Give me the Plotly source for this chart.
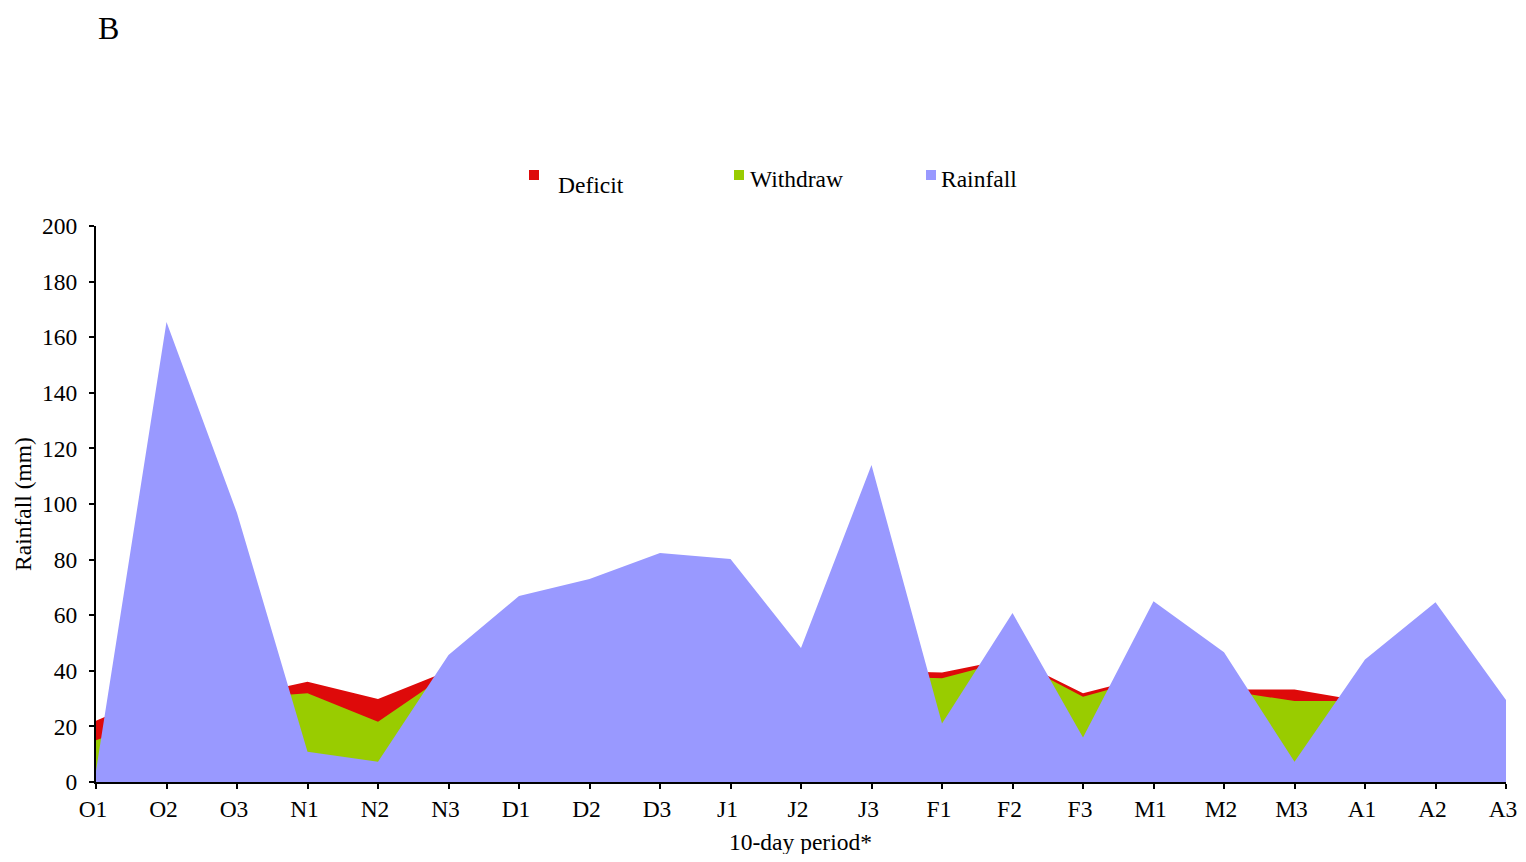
import plotly.graph_objects as go

periods = ["O1", "O2", "O3", "N1", "N2", "N3", "D1", "D2", "D3", "J1", "J2", "J3",
           "F1", "F2", "F3", "M1", "M2", "M3", "A1", "A2", "A3"]
rainfall = [4, 165.5, 96.8, 10.9, 7.3, 45.7, 66.9, 73, 82.4, 80.2, 48.2, 114,
            21, 60.8, 16, 65, 46.7, 7.3, 44.1, 64.7, 29.5]
withdraw_level = [15, 24, 30, 31.9, 21.7, 39, 40, 40, 40, 40, 40, 38,
                  37.3, 44, 30.7, 37.7, 33, 29.1, 29.1, 28, 27]
deficit_level = [22, 33, 30.5, 36.1, 29.9, 40, 42, 42, 42, 42, 42, 40,
                 39.4, 44.5, 31.9, 38.4, 33.3, 33.3, 29, 28, 27.5]

RED = "#DE0A0A"
GREEN = "#99CC00"
PURPLE = "#9999FF"
FONT = "Liberation Serif"
FS = 23.5

fig = go.Figure()
for name, vals, col in [("Deficit", deficit_level, RED),
                        ("Withdraw", withdraw_level, GREEN),
                        ("Rainfall", rainfall, PURPLE)]:
    fig.add_trace(go.Scatter(x=periods, y=vals, name=name, mode="none",
                             fill="tozeroy", fillcolor=col, showlegend=False))

# page has an 8px body margin; reference pixel coords are converted with OFF
OFF = 8
W, H = 1518, 846
L, T = 96 - OFF, 226 - OFF
R = W - (1506 - OFF)
B = H - (782 - OFF)
pw, ph = W - L - R, H - T - B

def px(x):
    return (x - OFF - L) / pw

def py(y):
    return (H - B - (y - OFF)) / ph

shapes = []
annotations = []
legend_items = [("Deficit", RED, 529, 558, 185),
                ("Withdraw", GREEN, 734, 750, 179),
                ("Rainfall", PURPLE, 926, 941, 179)]
for name, col, mx, tx, ty in legend_items:
    shapes.append(dict(type="rect", xref="paper", yref="paper",
                       x0=px(mx), x1=px(mx + 10), y0=py(180), y1=py(170),
                       fillcolor=col, line=dict(width=0)))
    annotations.append(dict(text=name, xref="paper", yref="paper",
                            x=px(tx - 2), y=py(ty), xanchor="left", yanchor="middle",
                            showarrow=False, font=dict(family=FONT, size=FS, color="black")))

annotations.append(dict(text="B", xref="paper", yref="paper", x=px(96), y=py(28),
                        xanchor="left", yanchor="middle", showarrow=False,
                        font=dict(family=FONT, size=32, color="black")))
# x-axis title
annotations.append(dict(text="10-day period*", xref="paper", yref="paper",
                        x=px(800), y=py(842), xanchor="center", yanchor="middle",
                        showarrow=False, font=dict(family=FONT, size=FS, color="black")))

fig.update_layout(
    width=W, height=H,
    margin=dict(l=L, r=R, t=T, b=B, autoexpand=False),
    paper_bgcolor="white", plot_bgcolor="white",
    font=dict(family=FONT, size=FS, color="black"),
    shapes=shapes, annotations=annotations,
    showlegend=False,
)
fig.update_xaxes(type="category", range=[0, len(periods) - 1], showgrid=False,
                 automargin=False,
                 showline=True, linecolor="black", linewidth=2,
                 ticks="outside", ticklen=5, tickwidth=2, tickcolor="black",
                 ticklabelshift=-3,
                 tickfont=dict(family=FONT, size=FS),
                 zeroline=False)
fig.update_yaxes(range=[0, 200], dtick=20, showgrid=False,
                 automargin=False,
                 showline=True, linecolor="black", linewidth=2,
                 ticks="outside", ticklen=5, tickwidth=2, tickcolor="black",
                 ticklabelstandoff=7,
                 tickfont=dict(family=FONT, size=FS),
                 title=dict(text="Rainfall (mm)", font=dict(family=FONT, size=FS), standoff=4),
                 zeroline=False)

fig.write_html("out.html")
